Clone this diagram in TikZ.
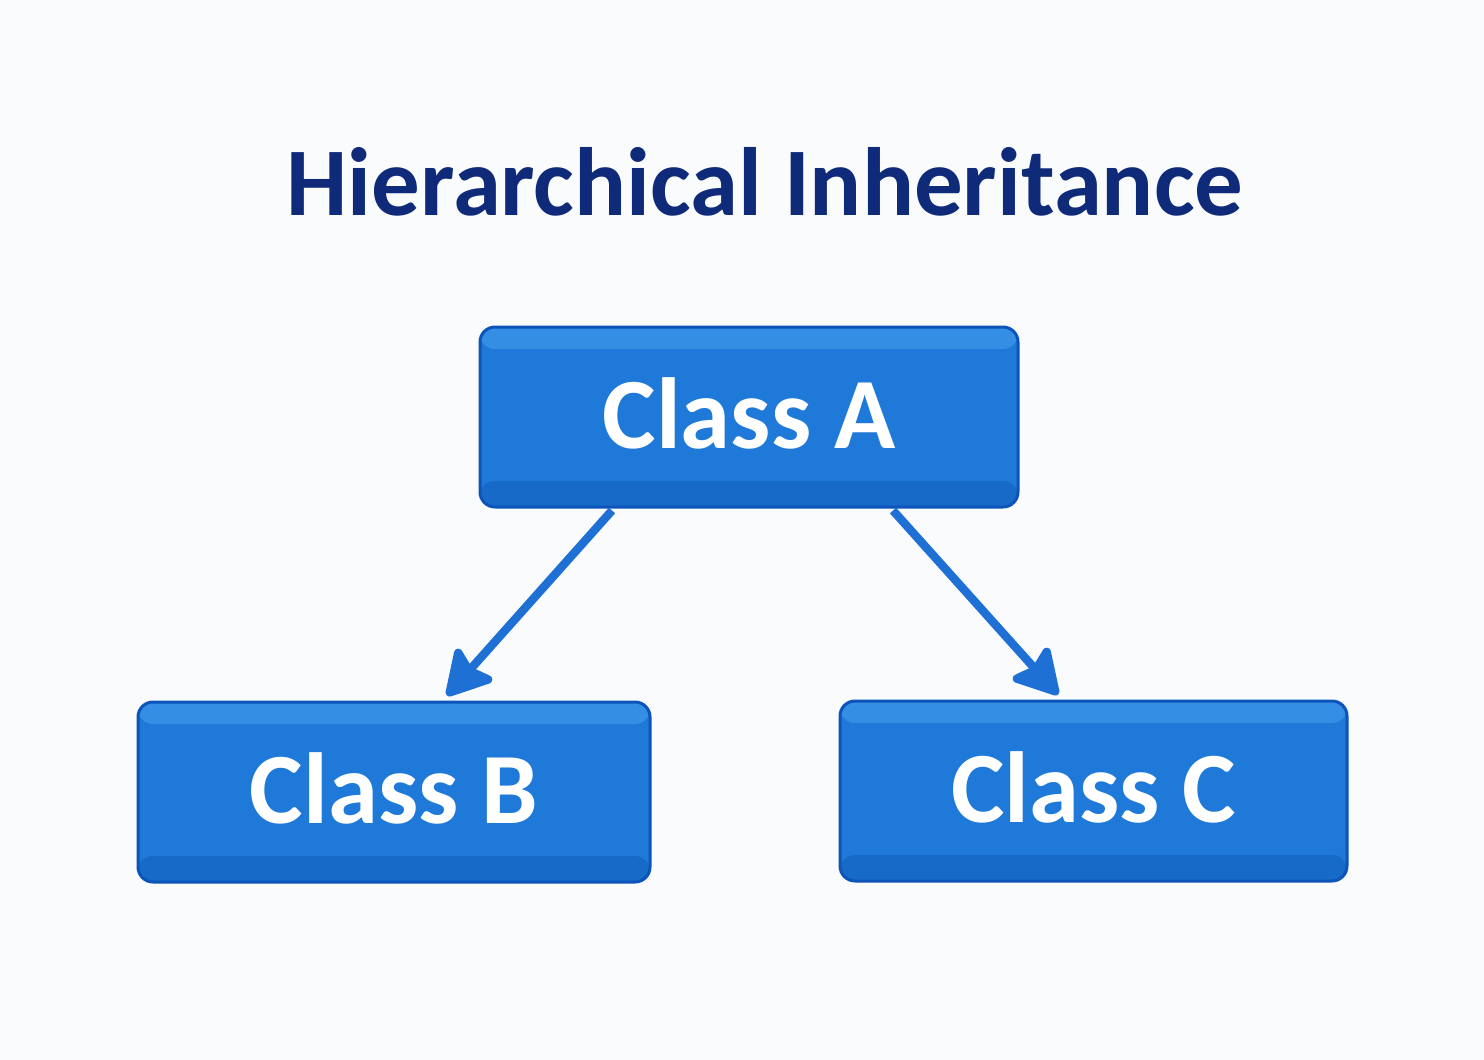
\documentclass[tikz,border=0pt]{standalone}
\usepackage{fontspec}
\setmainfont{Carlito}
\usepackage{tikz}
\usetikzlibrary{arrows.meta}
\usetikzlibrary{positioning}
\definecolor{boxblue}{RGB}{30,121,216}
\definecolor{boxedge}{RGB}{12,84,186}
\definecolor{boxtop}{RGB}{52,142,228}
\definecolor{boxbottom}{RGB}{24,106,200}
\definecolor{titleblue}{RGB}{16,42,122}
\definecolor{arrowblue}{RGB}{30,112,212}
\definecolor{paper}{RGB}{250,251,252}
\tikzset{line/.style={draw=arrowblue, line width=4.2pt, -{Stealth[length=25pt,width=28pt,inset=4pt,round]}}}

\begin{document}
\begin{tikzpicture}[x=0.5pt, y=-0.5pt,
	box/.style={draw=boxedge, line width=1.5pt, rectangle, rounded corners=7.5pt,
		fill=boxblue, minimum height=90pt, text=white, text depth=4pt,
		font=\fontsize{50.5}{60}\selectfont\bfseries,
		path picture={
			\fill[boxtop] (path picture bounding box.north west) rectangle
				([yshift=-11pt]path picture bounding box.north east);
			\fill[boxbottom] ([yshift=13pt]path picture bounding box.south west) rectangle
				(path picture bounding box.south east);
		}}]
	%% Canvas
	\fill [paper] (0,0) rectangle (1484,1060);
	\useasboundingbox (0,0) rectangle (1484,1060);
	%% Title
	\node [text=titleblue, font=\fontsize{48.5}{58}\selectfont\bfseries] at (765,182) (Title) {Hierarchical Inheritance};
	%% Classes
	\node [box, minimum width=269pt] at (749,417) (A) {Class A};
	\node [box, minimum width=256pt] at (394,792) (B) {Class B};
	\node [box, minimum width=253.5pt] at (1093.5,791) (C) {Class C};
	%% Inheritance
	\path [line] ([xshift=-68.5pt,yshift=-1pt]A.south) -- ([xshift=26.5pt,yshift=2.5pt]B.north);
	\path [line] ([xshift=72pt,yshift=-1pt]A.south) -- ([xshift=-17.75pt,yshift=2.5pt]C.north);
\end{tikzpicture}
\end{document}
